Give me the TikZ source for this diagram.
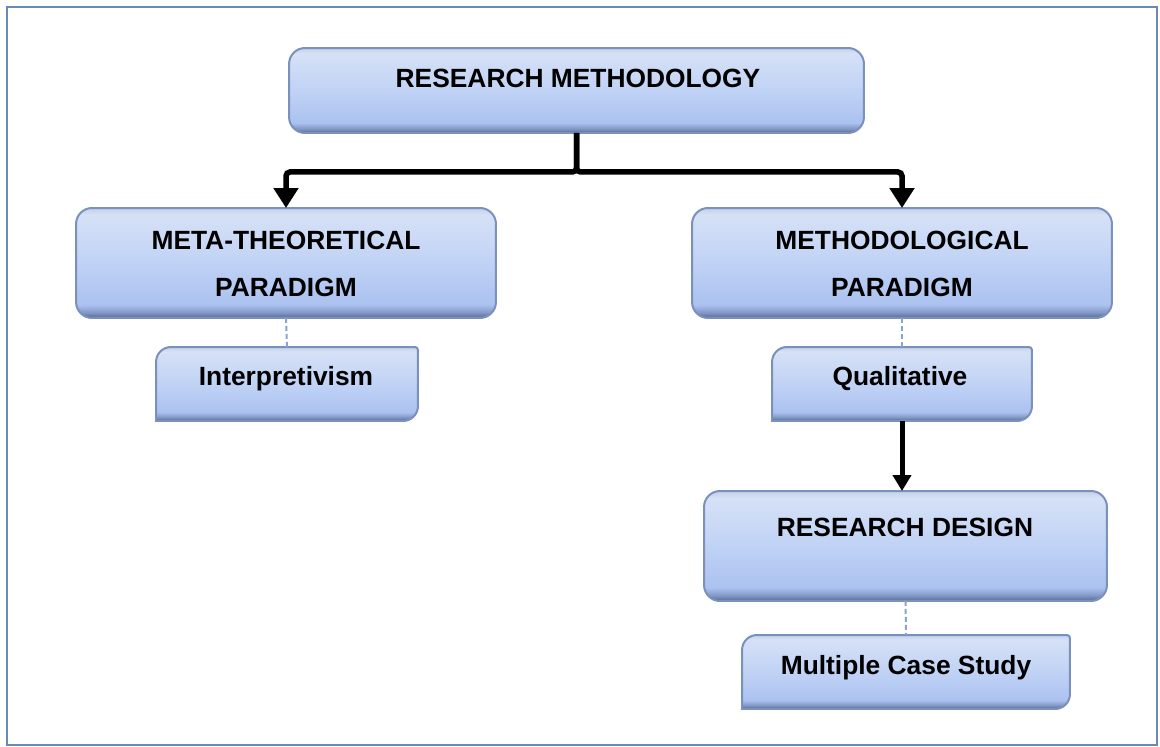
\documentclass[tikz,border=0pt]{standalone}
\usepackage{fontspec}
\setmainfont{Liberation Sans}
\usetikzlibrary{arrows.meta}

\definecolor{bxedge}{HTML}{56678E}
\definecolor{bxlow}{HTML}{8197C6}
\definecolor{bxb}{HTML}{ABC2F0}
\definecolor{bxm}{HTML}{C0D2F5}
\definecolor{bxt}{HTML}{D6E1F6}
\definecolor{bxtop}{HTML}{C2D0EA}
\definecolor{bxline}{HTML}{7A90BD}
\definecolor{dashcol}{HTML}{8AA3D2}
\definecolor{framecol}{HTML}{6A88B8}

% light blue fill, lighter at the top, with a dark rim along the bottom
\pgfdeclareverticalshading{boxshade}{100bp}{%
  color(0bp)=(bxedge); color(25bp)=(bxedge); color(27.5bp)=(bxlow);
  color(31bp)=(bxb); color(50bp)=(bxm); color(72bp)=(bxt);
  color(75bp)=(bxtop); color(100bp)=(bxtop)}

% rounded box behind a node
\newcommand\roundbox[1]{%
  \shade[shading=boxshade,rounded corners=0.32cm] (#1.north west) rectangle (#1.south east);
  \draw[bxline,line width=0.04cm,rounded corners=0.32cm] (#1.north west) rectangle (#1.south east);}

% box with rounded top-left and bottom-right corners
\newcommand\tabpath[1]{(#1.west) [rounded corners=0.3cm] -- (#1.north west) -- (#1.north)
  [rounded corners=0.06cm] -- (#1.north east) -- (#1.east)
  [rounded corners=0.3cm] -- (#1.south east) -- (#1.south)
  [sharp corners] -- (#1.south west) -- cycle}
\newcommand\tabbox[1]{%
  \shade[shading=boxshade] \tabpath{#1};
  \draw[bxline,line width=0.04cm] \tabpath{#1};}

\tikzset{
  slot/.style={rectangle,draw=none,inner sep=0pt,outer sep=0pt},
  lbl/.style={inner sep=0pt,font=\fontsize{15}{26.4}\selectfont\bfseries,text=black,align=center},
  bigarrow/.style={line width=0.11cm,rounded corners=0.08cm,
    -{Triangle[width=0.48cm,length=0.4cm]}},
  midarrow/.style={line width=0.1cm,-{Triangle[width=0.36cm,length=0.32cm]}},
  dashlink/.style={dashcol,line width=0.04cm,dash pattern=on 0.1cm off 0.06cm}
}

\begin{document}
\begin{tikzpicture}[x=0.02cm,y=-0.02cm]
  \useasboundingbox (0,0) rectangle (1160,747);
  \fill[white] (0,0) rectangle (1160,747);
  \draw[framecol,line width=0.05cm] (7,7) rectangle (1157,745);

  % box slots
  \node[slot,minimum width=11.5cm,minimum height=1.7cm] (rm) at (576.5,90.5) {};
  \node[slot,minimum width=8.4cm,minimum height=2.2cm] (mt) at (286,263) {};
  \node[slot,minimum width=8.4cm,minimum height=2.2cm] (mp) at (902,263) {};
  \node[slot,minimum width=5.24cm,minimum height=1.48cm] (ip) at (287,384) {};
  \node[slot,minimum width=5.2cm,minimum height=1.48cm] (ql) at (902,384) {};
  \node[slot,minimum width=8.06cm,minimum height=2.2cm] (rd) at (905.5,546) {};
  \node[slot,minimum width=6.56cm,minimum height=1.48cm] (mc) at (906,672) {};

  \roundbox{rm}
  \roundbox{mt}
  \roundbox{mp}
  \roundbox{rd}
  \tabbox{ip}
  \tabbox{ql}
  \tabbox{mc}

  % labels
  \node[lbl,anchor=base] (rmt) at (578,87) {RESEARCH METHODOLOGY};
  \node[lbl] (mtt) at (286,264) {META-THEORETICAL\\PARADIGM};
  \node[lbl] (mpt) at (902,264) {METHODOLOGICAL\\PARADIGM};
  \node[lbl,anchor=base] (ipt) at (286,385.5) {Interpretivism};
  \node[lbl,anchor=base] (qlt) at (900,385.5) {Qualitative};
  \node[lbl,anchor=base] (rdt) at (905,536.5) {RESEARCH DESIGN};
  \node[lbl,anchor=base] (mct) at (906,674) {Multiple Case Study};

  % connectors
  \draw[bigarrow] (rm.south) -- ++(0,39) -| (mt.north);
  \draw[bigarrow] (rm.south) -- ++(0,39) -| (mp.north);
  \draw[midarrow] (ql.south) -- (ql.south |- rd.north);
  \draw[dashlink] (mt.south) -- (ip.north);
  \draw[dashlink] (mp.south) -- (ql.north);
  \draw[dashlink] (rd.south) -- (mc.north);
\end{tikzpicture}
\end{document}
